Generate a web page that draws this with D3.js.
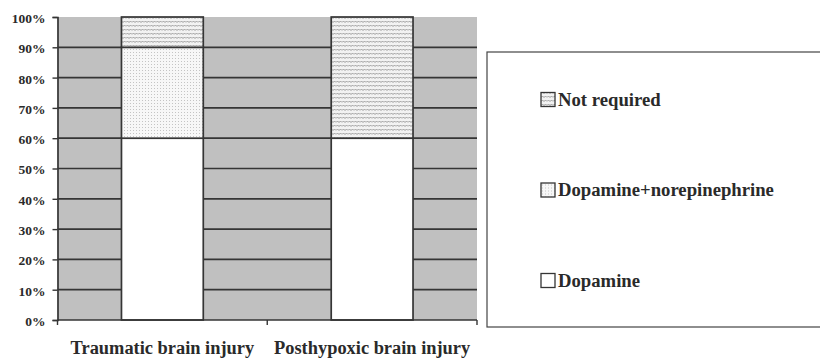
<!DOCTYPE html>
<html>
<head>
<meta charset="utf-8">
<script src="https://cdn.jsdelivr.net/npm/d3@7"></script>
<style>
  html, body { margin: 0; padding: 0; background: #fff; }
</style>
</head>
<body>
<svg id="chart" width="820" height="359"></svg>
<script>
// Injury groups and the share of patients in each vasopressor regimen (%)
const categories = ["Traumatic brain injury", "Posthypoxic brain injury"];
const dopamine = [60, 60];
const dopamineNorepinephrine = [30, 0];
const notRequired = [10, 40];
const seriesNames = ["Dopamine", "Dopamine+norepinephrine", "Not required"];
const yTicks = [0, 10, 20, 30, 40, 50, 60, 70, 80, 90, 100];

const FONT = "'Liberation Serif', 'Times New Roman', Times, serif";
const INK = "#2a2a2a";
const LINE = "#353535";

const svg = d3.select("#chart");
const margin = { left: 57.5, right: 343, top: 17, bottom: 39 };
const W = 820, H = 359;

const x = d3.scaleBand().domain(categories).range([margin.left, W - margin.right]).paddingInner(0.61).paddingOuter(0.305);
const y = d3.scaleLinear().domain([0, 100]).range([H - margin.bottom, margin.top]);

// fill patterns
const defs = svg.append("defs");
const wave = defs.append("pattern").attr("id", "wave").attr("patternUnits", "userSpaceOnUse")
  .attr("width", 6).attr("height", 4);
wave.append("rect").attr("width", 6).attr("height", 4).attr("fill", "#f2f2f2");
wave.append("path").attr("d", "M0,2.5 L1.5,1 L3,2.5 L4.5,1 L6,2.5").attr("fill", "none")
  .attr("stroke", "#8e8e8e").attr("stroke-width", 0.9);
const dots = defs.append("pattern").attr("id", "dots").attr("patternUnits", "userSpaceOnUse")
  .attr("width", 3).attr("height", 3);
dots.append("rect").attr("width", 3).attr("height", 3).attr("fill", "#f7f7f7");
dots.append("rect").attr("x", 1).attr("y", 1).attr("width", 1).attr("height", 1).attr("fill", "#c4c4c4");

const fills = { "Dopamine": "#ffffff", "Dopamine+norepinephrine": "url(#dots)", "Not required": "url(#wave)" };

// plot background
svg.append("rect").attr("x", margin.left).attr("y", y(100))
  .attr("width", W - margin.right - margin.left).attr("height", y(0) - y(100)).attr("fill", "#c0c0c0");

// horizontal gridlines
svg.append("g").selectAll("line").data(yTicks.filter(d => d > 0 && d < 100)).join("line")
  .attr("x1", margin.left).attr("x2", W - margin.right)
  .attr("y1", d => y(d)).attr("y2", d => y(d))
  .attr("stroke", LINE).attr("stroke-width", 1.7);

// stacked bars
const table = categories.map((c, i) => ({ cat: c, "Dopamine": dopamine[i], "Dopamine+norepinephrine": dopamineNorepinephrine[i], "Not required": notRequired[i] }));
const stack = d3.stack().keys(seriesNames)(table);
svg.append("g").selectAll("g").data(stack).join("g")
  .attr("fill", d => fills[d.key])
  .selectAll("rect").data(d => d.filter(s => s[1] > s[0])).join("rect")
  .attr("x", d => x(d.data.cat)).attr("width", x.bandwidth())
  .attr("y", d => y(d[1])).attr("height", d => y(d[0]) - y(d[1]))
  .attr("stroke", LINE).attr("stroke-width", 1.7);

// y axis
const yAxis = svg.append("g").attr("transform", `translate(${margin.left},0)`)
  .call(d3.axisLeft(y).tickValues(yTicks).tickFormat(d => d + "%").tickSize(5).tickPadding(7))
  .attr("font-family", FONT).attr("font-size", 13.5).attr("font-weight", "bold");
yAxis.select(".domain").attr("stroke", LINE).attr("stroke-width", 1.7);
yAxis.selectAll(".tick line").attr("stroke", LINE).attr("stroke-width", 1.4);
yAxis.selectAll("text").attr("fill", INK).attr("dy", "0.4em");

// x axis with ticks at category boundaries
const xEdges = [margin.left, (margin.left + W - margin.right) / 2, W - margin.right];
const xAxisG = svg.append("g");
xAxisG.append("line").attr("x1", margin.left).attr("x2", W - margin.right)
  .attr("y1", y(0)).attr("y2", y(0)).attr("stroke", LINE).attr("stroke-width", 1.7);
xAxisG.selectAll(".edge").data(xEdges).join("line").attr("class", "edge")
  .attr("x1", d => d).attr("x2", d => d).attr("y1", y(0)).attr("y2", y(0) + 5)
  .attr("stroke", LINE).attr("stroke-width", 1.4);
xAxisG.selectAll("text").data(categories).join("text")
  .attr("x", d => x(d) + x.bandwidth() / 2).attr("y", 354)
  .attr("text-anchor", "middle").attr("font-family", FONT).attr("font-weight", "bold")
  .attr("font-size", 18.4).attr("fill", INK)
  .text(d => d);

// legend
const legend = svg.append("g");
legend.append("rect").attr("x", 487).attr("y", 52).attr("width", 345).attr("height", 275)
  .attr("fill", "#fff").attr("stroke", "#444").attr("stroke-width", 1.2);
const legendOrder = ["Not required", "Dopamine+norepinephrine", "Dopamine"];
const ly = d3.scalePoint().domain(legendOrder).range([99, 280]);
const items = legend.selectAll("g.item").data(legendOrder).join("g").attr("class", "item")
  .attr("transform", d => `translate(541,${ly(d)})`);
items.append("rect").attr("x", 0).attr("y", -6.5).attr("width", 14).attr("height", 14)
  .attr("fill", d => fills[d]).attr("stroke", LINE).attr("stroke-width", 1.3);
items.append("text").attr("x", 17).attr("y", 6.5)
  .attr("font-family", FONT).attr("font-weight", "bold").attr("font-size", 18.7).attr("fill", INK)
  .text(d => d);
</script>
</body>
</html>
